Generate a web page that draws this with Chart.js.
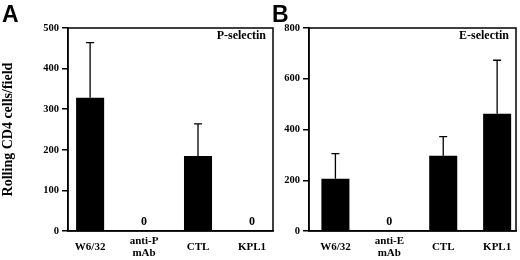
<!DOCTYPE html>
<html>
<head>
<meta charset="utf-8">
<script src="https://cdn.jsdelivr.net/npm/chart.js@4"></script>
<style>
  body { margin: 0; background: #fff; }
  #wrap { position: relative; width: 520px; height: 260px; overflow: hidden; }
  canvas { position: absolute; top: 0; }
  #chartA { left: 0; }
  #chartB { left: 262px; }
  .panel { position: absolute; top: 3px; font: bold 23px "Liberation Sans", Arial, sans-serif; line-height: 23px; color: #000; }
</style>
</head>
<body>
<div id="wrap">
  <canvas id="chartA" width="276" height="260"></canvas>
  <canvas id="chartB" width="258" height="260"></canvas>
  <div class="panel" style="left:2px">A</div>
  <div class="panel" style="left:272px">B</div>
</div>
<script>
// categories
var labelsA = ['W6/32', ['anti-P', 'mAb'], 'CTL', 'KPL1'];
var labelsB = ['W6/32', ['anti-E', 'mAb'], 'CTL', 'KPL1'];

// rolling CD4 cells / field (mean and upper error)
var pSelectin = [328, 0, 185, 0];
var pSelectinErr = [136, 0, 79, 0];
var eSelectin = [206, 0, 297, 462];
var eSelectinErr = [99, 0, 75, 211];

var ticksA = [0, 100, 200, 300, 400, 500];
var ticksB = [0, 200, 400, 600, 800];

var serif = '"Liberation Serif", "Times New Roman", serif';

// error bars, "0" labels, frame and panel title
var extras = {
  id: 'extras',
  afterDatasetsDraw: function(chart, args, opts) {
    var ctx = chart.ctx;
    var meta = chart.getDatasetMeta(0);
    var y = chart.scales.y;
    var vals = chart.data.datasets[0].data;
    ctx.save();
    ctx.strokeStyle = '#000';
    ctx.fillStyle = '#000';
    ctx.lineWidth = 1.3;
    meta.data.forEach(function(bar, i) {
      var v = vals[i].y;
      var e = opts.err[i];
      if (e > 0) {
        var yTop = y.getPixelForValue(v + e);
        ctx.beginPath();
        ctx.moveTo(bar.x, bar.y);
        ctx.lineTo(bar.x, yTop);
        ctx.moveTo(bar.x - 4, yTop);
        ctx.lineTo(bar.x + 4, yTop);
        ctx.stroke();
      }
      if (v === 0) {
        ctx.font = 'bold 12px ' + serif;
        ctx.textAlign = 'center';
        ctx.textBaseline = 'middle';
        ctx.fillText('0', bar.x, y.getPixelForValue(0) - 9);
      }
    });
    var a = chart.chartArea;
    ctx.lineWidth = 1.5;
    ctx.strokeRect(a.left, a.top, a.right - a.left, a.bottom - a.top);
    ctx.font = 'bold 12px ' + serif;
    ctx.textAlign = 'right';
    ctx.textBaseline = 'middle';
    ctx.fillText(opts.title, a.right - 7, a.top + 8);
    ctx.restore();
  }
};

function makeChart(id, labels, values, errs, yTicks, xMin, xMax, yWidth, padRight, title, yTitle) {
  var pts = values.map(function(v, i) { return { x: i, y: v }; });
  return new Chart(document.getElementById(id), {
    type: 'bar',
    data: {
      datasets: [{
        data: pts,
        backgroundColor: '#000',
        borderWidth: 0,
        barPercentage: 0.52,
        categoryPercentage: 1
      }]
    },
    options: {
      responsive: false,
      animation: false,
      layout: { padding: { top: 28, right: padRight, left: 0, bottom: 0 } },
      plugins: {
        legend: { display: false },
        tooltip: { enabled: false },
        extras: { err: errs, title: title }
      },
      scales: {
        x: {
          type: 'linear',
          offset: false,
          min: xMin,
          max: xMax,
          afterBuildTicks: function(s) {
            s.ticks = labels.map(function(l, i) { return { value: i }; });
          },
          afterFit: function(s) { s.height = 29; },
          grid: { display: false },
          border: { display: true, color: '#000', width: 1.5 },
          ticks: {
            autoSkip: false,
            maxRotation: 0,
            padding: 2,
            crossAlign: 'center',
            color: '#000',
            font: { family: serif, size: 11, weight: 'bold', lineHeight: 1.15 },
            callback: function(v) { return labels[v]; }
          }
        },
        y: {
          min: yTicks[0],
          max: yTicks[yTicks.length - 1],
          afterBuildTicks: function(s) {
            s.ticks = yTicks.map(function(v) { return { value: v }; });
          },
          afterFit: function(s) { s.width = yWidth; },
          grid: { drawOnChartArea: false, drawTicks: true, tickLength: 6, color: '#000', lineWidth: 1.5 },
          border: { display: true, color: '#000', width: 1.5 },
          title: {
            display: !!yTitle,
            text: yTitle,
            color: '#000',
            font: { family: serif, size: 14, weight: 'bold' },
            padding: 0
          },
          ticks: {
            padding: 3,
            color: '#000',
            font: { family: serif, size: 10.5, weight: 'bold' }
          }
        }
      }
    },
    plugins: [extras]
  });
}

makeChart('chartA', labelsA, pSelectin, pSelectinErr, ticksA, -0.41, 3.39, 68, 3, 'P-selectin', 'Rolling CD4 cells/field');
makeChart('chartB', labelsB, eSelectin, eSelectinErr, ticksB, -0.49, 3.35, 47, 4, 'E-selectin', '');
</script>
</body>
</html>
